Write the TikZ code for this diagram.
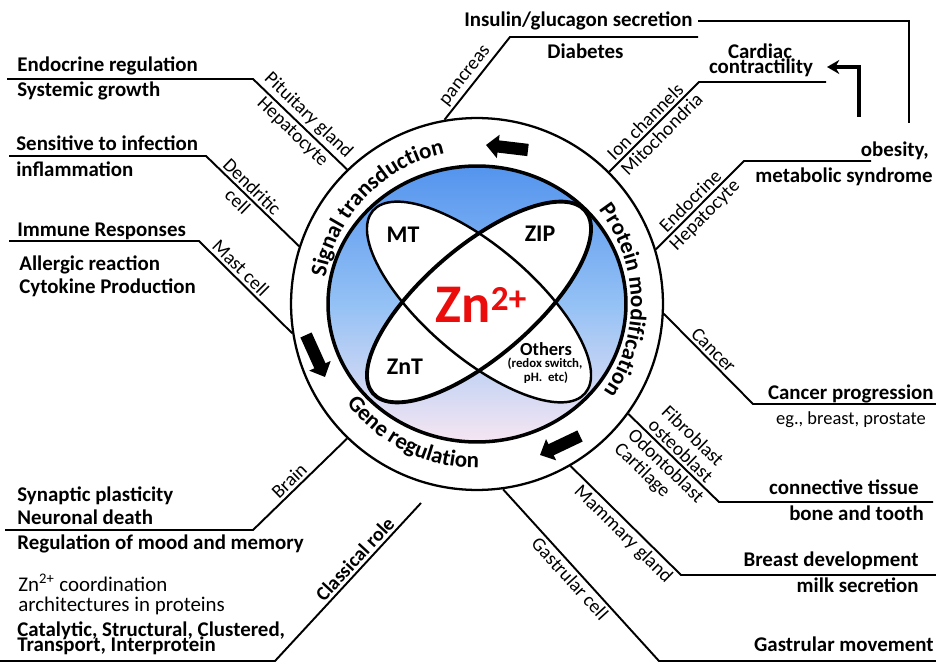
\documentclass[tikz,border=0pt]{standalone}
\usepackage{fontspec}
\setmainfont{Carlito}
\usetikzlibrary{positioning,calc,arrows.meta,decorations.text}

\definecolor{znred}{RGB}{235,12,12}
\definecolor{disktop}{RGB}{84,148,238}
\definecolor{diskmid}{RGB}{148,193,245}
\definecolor{diskbot}{RGB}{246,230,242}

\newcommand\ringfont{\bfseries\fontsize{13}{14}\selectfont}

\begin{document}
\begin{tikzpicture}[x=0.02cm, y=-0.02cm,
conn/.style={line width=1.1pt},
lbl/.style={font=\bfseries\fontsize{11.9}{13}\selectfont, inner sep=0pt},
regtxt/.style={font=\fontsize{11.9}{13}\selectfont, inner sep=0pt},
celltxt/.style={font=\fontsize{11}{11}\selectfont, sloped, inner sep=1.5pt},
protein/.style={font=\bfseries\fontsize{13.6}{14}\selectfont, inner sep=0pt},
blockarrow/.style={line width=7pt, -{Triangle[width=13pt, length=7pt]}}
]
\useasboundingbox (0,0) rectangle (936,662);

% zinc disk and ring
\draw[line width=2pt, top color=disktop, bottom color=diskbot, middle color=diskmid]
	(477,304) ellipse [x radius=2.98cm, y radius=2.76cm];
\node[circle, draw, line width=1.3pt, minimum size=7.44cm, inner sep=0pt] (ring) at (477,304) {};

% transporter ellipses
\fill[white, rotate around={-40.7:(479,302)}] (479,302) ellipse [x radius=2.8cm, y radius=1.1cm];
\fill[white, rotate around={40.7:(479,302)}] (479,302) ellipse [x radius=2.8cm, y radius=1.1cm];
\draw[line width=1.4pt, rotate around={-40.7:(479,302)}] (479,302) ellipse [x radius=2.8cm, y radius=1.1cm];
\draw[line width=2.2pt, rotate around={40.7:(479,302)}] (479,302) ellipse [x radius=2.8cm, y radius=1.1cm];

\node[protein] (mt) at (403,235) {MT};
\node[protein] (zip) at (540,234) {ZIP};
\node[protein] (znt) at (405,367) {ZnT};
\node[font=\bfseries\fontsize{10.5}{11}\selectfont, inner sep=0pt] (others) at (546,349) {Others};
\node[font=\bfseries\fontsize{7.3}{8}\selectfont, inner sep=0pt] (redox) at (545,364) {(redox switch,};
\node[font=\bfseries\fontsize{7.3}{8}\selectfont, inner sep=0pt] (ph) at (546,378) {pH.\ \ etc)};
\node[text=znred, font=\bfseries\fontsize{31}{31}\selectfont, inner sep=0pt] (zn) at (481,305)
	{Zn{\fontsize{20}{20}\selectfont\raisebox{7.1pt}{2+}}};

% ring labels
\path[decorate, decoration={text along path, text align=center, text={|\ringfont|Signal transduction}}]
	($(ring.center)+(190:3.08cm)$) arc [start angle=190, end angle=82, radius=3.08cm];
\path[decorate, decoration={text along path, text align=center, text={|\ringfont|Protein modification}}]
	($(ring.center)+(50:3.08cm)$) arc [start angle=50, end angle=-47, radius=3.08cm];
\path[decorate, decoration={text along path, text align=center, text={|\ringfont|Gene regulation}}]
	($(ring.center)+(200:3.28cm)$) arc [start angle=200, end angle=288, radius=3.28cm];

\draw[blockarrow] (528,150) -- (486,145);
\draw[blockarrow] (306,335) -- (325,377);
\draw[blockarrow] (580,436) -- (540,455);

% leader corners
\coordinate (endoL) at (7,79);    \coordinate (endoK) at (253,79);
\coordinate (infL) at (9,156);    \coordinate (infK) at (206,156);
\coordinate (immL) at (9,241);    \coordinate (immK) at (199,241);
\coordinate (brainL) at (5,530);  \coordinate (brainK) at (253,530);
\coordinate (classL) at (0,661);  \coordinate (classK) at (275,661);
\coordinate (classE) at (421,503);
\coordinate (gasR) at (936,661);  \coordinate (gasK) at (659,661);
\coordinate (mamR) at (936,575);  \coordinate (mamK) at (681,575);
\coordinate (conR) at (933,502);  \coordinate (conK) at (719,502);
\coordinate (canR) at (936,404);  \coordinate (canK) at (753,404);
\coordinate (obR) at (871,161);   \coordinate (obK) at (744,161);
\coordinate (carR) at (826,82);   \coordinate (carK) at (699,82);
\coordinate (panR) at (698,37);   \coordinate (panK) at (510,37);

% left side
\draw[conn] (endoL) -- (endoK) -- node[celltxt, above]{Pituitary gland} node[celltxt, below]{Hepatocyte} (ring.134);
\draw[conn] (infL) -- (infK) -- node[celltxt, above, pos=.42]{Dendritic} node[celltxt, below, pos=.42]{cell} (ring.162);
\draw[conn] (immL) -- (immK) -- node[celltxt, above, pos=.37]{Mast cell} (ring.189);
\draw[conn] (brainL) -- (brainK) -- node[celltxt, above, pos=.46]{Brain} (ring.226);
\draw[conn] (classL) -- (classK) -- node[celltxt, above, pos=.6, font=\bfseries\fontsize{11.3}{12}\selectfont]{Classical role} (classE);

\node[lbl, anchor=base west] (endoreg) at (17,72) {Endocrine regulation};
\node[lbl, anchor=base west] (sysgrow) at (17,97) {Systemic growth};
\node[lbl, anchor=base west] (sensinf) at (16,151) {Sensitive to infection};
\node[lbl, anchor=base west] (inflam) at (16,177) {inflammation};
\node[lbl, anchor=base west] (immresp) at (17,236) {Immune Responses};
\node[lbl, anchor=base west] (allergy) at (19,271) {Allergic reaction};
\node[lbl, anchor=base west] (cytokine) at (19,293) {Cytokine Production};
\node[lbl, anchor=base west] (synapse) at (17,501) {Synaptic plasticity};
\node[lbl, anchor=base west] (neuron) at (17,524) {Neuronal death};
\node[lbl, anchor=base west] (mood) at (17,549) {Regulation of mood and memory};
\node[regtxt, anchor=base west] (coord) at (18,591) {Zn\textsuperscript{2+} coordination};
\node[regtxt, anchor=base west] (archi) at (18,611) {architectures in proteins};
\node[lbl, anchor=base west] (catal) at (17,636) {Catalytic, Structural, Clustered,};
\node[lbl, anchor=base west] (transp) at (17,651) {Transport, Interprotein};

% right side
\draw[conn] (ring.278) -- node[celltxt, below, pos=.48]{Gastrular cell} (gasK) -- (gasR);
\draw[conn] (ring.300) -- node[celltxt, below, pos=.55]{Mammary gland} (mamK) -- (mamR);
\draw[conn] (ring.324) -- node[celltxt, above, align=left]{Fibroblast\\osteoblast}
	node[celltxt, below, align=left]{Odontoblast\\Cartilage} (conK) -- (conR);
\draw[conn] (ring.357) -- node[celltxt, above, pos=.48]{Cancer} (canK) -- (canR);
\draw[conn] (ring.17) -- node[celltxt, above, pos=.47]{Endocrine} node[celltxt, below, pos=.47]{Hepatocyte} (obK) -- (obR);
\draw[conn] (ring.45) -- node[celltxt, above, pos=.48]{Ion channels} node[celltxt, below, pos=.5]{Mitochondria} (carK) -- (carR);
\draw[conn] (ring.100) -- node[celltxt, above, pos=.45]{pancreas} (panK) -- (panR);

\node[lbl, anchor=base east] (insulin) at (693,27) {Insulin/glucagon secretion};
\node[lbl, anchor=base west] (diab) at (547,59) {Diabetes};
\node[lbl, anchor=base] (cardiac) at (760,59) {Cardiac};
\node[lbl, anchor=base] (contr) at (761,74) {contractility};
\node[lbl, anchor=base east] (obes) at (929,157) {obesity,};
\node[lbl, anchor=base east] (metab) at (933,183) {metabolic syndrome};
\node[lbl, anchor=base east] (canprog) at (934,399) {Cancer progression};
\node[regtxt, anchor=base east, font=\fontsize{10.5}{12}\selectfont] (canex) at (926,424) {eg., breast, prostate};
\node[lbl, anchor=base east] (contis) at (919,494) {connective tissue};
\node[lbl, anchor=base east] (bone) at (924,520) {bone and tooth};
\node[lbl, anchor=base east] (breast) at (919,566) {Breast development};
\node[lbl, anchor=base east] (milk) at (919,592) {milk secretion};
\node[lbl, anchor=base east] (gastmov) at (934,651) {Gastrular movement};

% obesity links
\coordinate (obtop) at (909,123);
\coordinate (obarr) at (859,117);
\coordinate (cardtip) at (827,67);
\draw[conn] ([xshift=3pt]insulin.east) -| (obtop);
\draw[line width=1.8pt, -{Stealth[length=7pt, width=8pt]}] (obarr) |- (cardtip);

\end{tikzpicture}
\end{document}
